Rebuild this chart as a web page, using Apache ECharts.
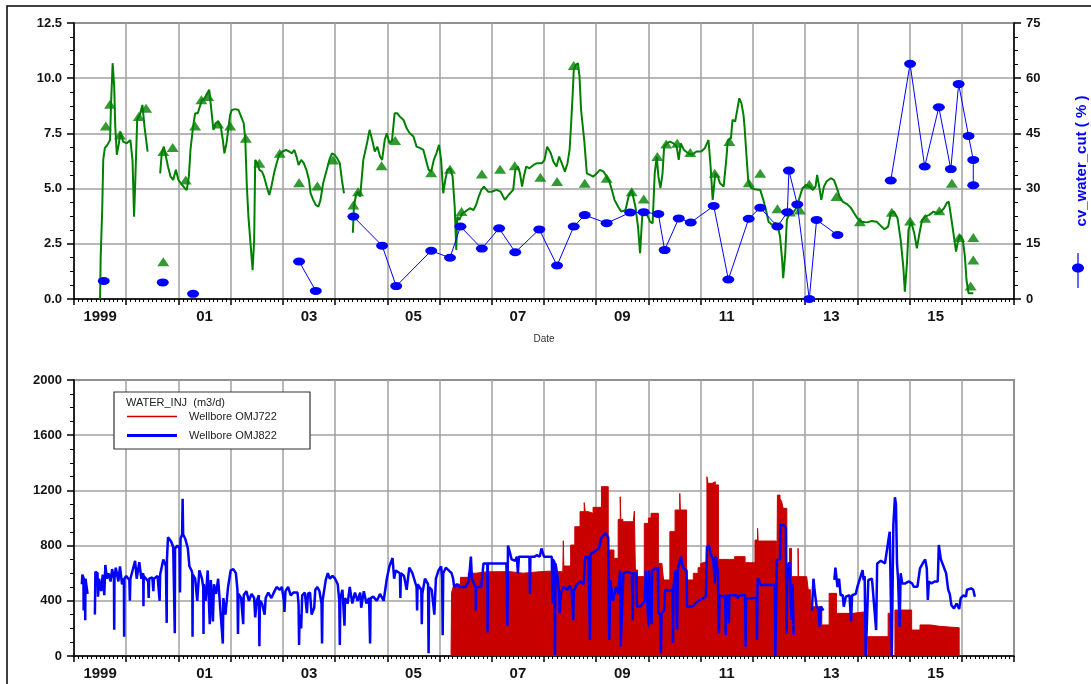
<!DOCTYPE html>
<html>
<head>
<meta charset="utf-8">
<script src="https://cdn.jsdelivr.net/npm/echarts@6/dist/echarts.min.js"></script>
<style>
html,body{margin:0;padding:0;background:#fff;}
#chart{width:1091px;height:684px;}
</style>
</head>
<body>
<div id="chart"></div>
<script>
// ---------- DATA (x = decimal year) ----------
const yearLabelValues = [1999.5,2001.5,2003.5,2005.5,2007.5,2009.5,2011.5,2013.5,2015.5];

// top panel, left axis: green rate line
const rateLine = [
[1999.50,0],[1999.51,1.84],[1999.54,4.03],[1999.56,6.3],[1999.59,6.83],[1999.64,6.98],[1999.69,7.2],[1999.71,8.87],[1999.74,10.68],[1999.77,9.62],[1999.79,7.81],[1999.82,6.53],[1999.86,7.05],[1999.89,7.58],[1999.94,7.13],[2000.01,7.05],[2000.08,7.2],[2000.12,6.3],[2000.15,3.73],[2000.17,5.09],[2000.21,8.11],[2000.26,8.34],[2000.31,8.79],[2000.35,7.81],[2000.41,6.68],[2000.5,null],
[2000.65,5.69],[2000.68,6.6],[2000.72,6.9],[2000.76,6.45],[2000.80,6.0],[2000.85,5.54],[2000.90,5.39],[2000.95,5.85],[2001.00,5.39],[2001.07,5.17],[2001.12,5.02],[2001.16,4.94],[2001.20,5.54],[2001.23,6.75],[2001.28,7.81],[2001.32,8.41],[2001.37,8.41],[2001.41,8.72],[2001.45,9.02],[2001.50,9.09],[2001.55,9.32],[2001.59,9.47],[2001.63,8.56],[2001.67,7.66],[2001.71,7.96],[2001.76,8.04],[2001.81,7.81],[2001.85,7.2],[2001.88,6.6],[2001.92,7.05],[2001.96,7.81],[2001.99,8.34],[2002.02,8.56],[2002.09,8.6],[2002.15,8.56],[2002.20,8.26],[2002.25,7.96],[2002.28,7.2],[2002.31,5.09],[2002.34,3.73],[2002.38,2.52],[2002.42,1.31],[2002.45,2.67],[2002.47,6.3],[2002.51,6.15],[2002.55,5.85],[2002.60,5.77],[2002.64,5.54],[2002.69,5.09],[2002.74,4.71],[2002.78,5.09],[2002.83,5.69],[2002.88,6.15],[2002.93,6.53],[2002.99,6.68],[2003.06,6.75],[2003.12,6.68],[2003.17,6.6],[2003.22,6.75],[2003.26,6.45],[2003.30,6.07],[2003.35,6.3],[2003.40,6.15],[2003.45,5.85],[2003.50,5.39],[2003.53,4.79],[2003.58,4.49],[2003.63,4.26],[2003.68,4.18],[2003.72,4.49],[2003.77,5.24],[2003.84,5.85],[2003.89,6.3],[2003.94,6.6],[2003.99,6.53],[2004.04,6.37],[2004.09,6.15],[2004.13,5.39],[2004.17,4.79],[2004.25,null],
[2004.34,3.0],[2004.36,4.18],[2004.40,4.71],[2004.44,4.86],[2004.48,4.64],[2004.54,6.3],[2004.61,7.05],[2004.66,7.66],[2004.71,7.2],[2004.76,6.68],[2004.81,6.9],[2004.86,6.45],[2004.90,6.3],[2004.95,7.2],[2004.99,7.51],[2005.04,7.05],[2005.09,7.2],[2005.14,8.41],[2005.19,8.41],[2005.24,8.26],[2005.31,8.11],[2005.37,7.73],[2005.43,7.51],[2005.50,7.36],[2005.56,6.9],[2005.63,6.83],[2005.69,6.75],[2005.74,6.3],[2005.79,5.85],[2005.84,5.77],[2005.89,6.3],[2005.94,6.6],[2005.99,6.98],[2006.03,6.3],[2006.07,4.79],[2006.11,5.39],[2006.15,5.85],[2006.20,5.92],[2006.25,5.54],[2006.29,4.18],[2006.32,2.22],[2006.34,3.73],[2006.38,3.58],[2006.43,3.88],[2006.49,3.96],[2006.58,4.11],[2006.65,4.03],[2006.70,4.26],[2006.75,4.64],[2006.80,4.94],[2006.85,5.09],[2006.93,4.86],[2007.00,4.86],[2007.09,4.94],[2007.17,4.86],[2007.25,4.49],[2007.32,4.71],[2007.41,4.94],[2007.45,5.85],[2007.50,6.0],[2007.54,5.69],[2007.58,5.09],[2007.62,5.62],[2007.66,6.0],[2007.72,5.92],[2007.80,6.07],[2007.87,6.15],[2007.96,6.15],[2008.01,6.3],[2008.06,6.9],[2008.13,6.6],[2008.18,6.22],[2008.24,6.0],[2008.29,6.45],[2008.34,6.15],[2008.40,5.77],[2008.45,6.15],[2008.49,6.75],[2008.52,7.96],[2008.55,9.32],[2008.57,10.38],[2008.61,10.6],[2008.65,10.68],[2008.68,10.08],[2008.71,8.56],[2008.77,7.2],[2008.82,5.69],[2008.88,5.62],[2008.94,5.54],[2009.01,5.69],[2009.07,5.85],[2009.14,5.77],[2009.20,5.54],[2009.25,5.32],[2009.30,4.94],[2009.35,4.49],[2009.42,4.18],[2009.48,3.96],[2009.56,4.03],[2009.62,4.64],[2009.68,4.94],[2009.75,4.18],[2009.80,3.28],[2009.84,2.07],[2009.88,3.73],[2009.91,4.03],[2009.95,3.88],[2009.99,3.73],[2010.03,3.5],[2010.08,3.43],[2010.12,5.69],[2010.16,6.45],[2010.19,5.54],[2010.23,5.02],[2010.27,5.69],[2010.30,6.9],[2010.35,7.05],[2010.41,7.13],[2010.48,7.05],[2010.54,6.9],[2010.58,6.3],[2010.62,7.05],[2010.68,6.75],[2010.76,6.6],[2010.83,6.53],[2010.92,6.68],[2011.01,6.68],[2011.08,6.83],[2011.15,7.2],[2011.19,6.0],[2011.23,4.49],[2011.28,5.69],[2011.33,5.54],[2011.37,5.24],[2011.44,5.09],[2011.49,6.3],[2011.52,7.2],[2011.58,7.28],[2011.61,8.11],[2011.66,8.04],[2011.70,8.56],[2011.74,9.09],[2011.78,8.87],[2011.82,8.34],[2011.84,7.81],[2011.87,6.75],[2011.91,5.39],[2011.96,5.05],[2012.03,4.97],[2012.14,4.94],[2012.20,4.49],[2012.25,4.03],[2012.30,3.5],[2012.37,3.35],[2012.43,3.46],[2012.48,3.28],[2012.52,2.82],[2012.56,1.77],[2012.58,0.94],[2012.62,2.07],[2012.65,3.58],[2012.70,3.88],[2012.76,3.88],[2012.83,4.11],[2012.89,4.56],[2012.95,5.02],[2013.02,5.17],[2013.08,5.09],[2013.15,4.94],[2013.20,5.09],[2013.23,5.62],[2013.27,5.09],[2013.31,4.49],[2013.36,5.09],[2013.41,5.32],[2013.49,5.47],[2013.55,5.39],[2013.60,5.09],[2013.66,4.64],[2013.72,4.41],[2013.80,4.3],[2013.87,4.15],[2013.94,3.88],[2014.00,3.66],[2014.08,3.5],[2014.18,3.47],[2014.28,3.53],[2014.37,3.5],[2014.45,3.31],[2014.52,3.16],[2014.59,3.28],[2014.64,3.88],[2014.70,3.96],[2014.77,3.66],[2014.83,2.67],[2014.88,1.47],[2014.91,0.33],[2014.95,1.62],[2014.98,3.13],[2015.03,3.5],[2015.09,2.98],[2015.14,2.3],[2015.19,2.98],[2015.24,3.58],[2015.30,3.73],[2015.38,3.81],[2015.46,3.96],[2015.53,3.88],[2015.60,3.96],[2015.66,4.11],[2015.71,4.34],[2015.75,4.41],[2015.79,3.81],[2015.84,2.98],[2015.89,2.15],[2015.93,2.67],[2015.97,2.9],[2016.02,2.67],[2016.06,1.92],[2016.09,0.86],[2016.13,0.26],[2016.22,0.26]
];

// top panel, left axis: green triangles
const ratePoints = [
[1999.61,7.84],[1999.69,8.82],[1999.88,7.43],[2000.24,8.26],[2000.38,8.64],[2000.71,1.69],[2000.71,6.68],[2000.89,6.86],[2001.14,5.39],[2001.32,7.84],[2001.44,9.02],[2001.57,9.17],[2001.76,7.93],[2001.99,7.84],[2002.29,7.28],[2002.55,6.15],[2002.94,6.6],[2003.31,5.27],[2003.66,5.12],[2003.96,6.3],[2004.35,4.26],[2004.44,4.86],
[2004.89,6.04],[2005.15,7.18],[2005.84,5.72],[2006.20,5.88],[2006.42,3.96],[2006.81,5.66],[2007.16,5.88],[2007.44,6.04],[2007.93,5.51],[2008.25,5.32],[2008.57,10.57],[2008.78,5.24],[2009.20,5.47],[2009.68,4.86],[2009.91,4.53],[2010.17,6.45],[2010.34,7.02],[2010.55,7.05],[2010.80,6.63],[2011.27,5.69],
[2011.55,7.13],[2011.92,5.27],[2012.14,5.69],[2012.47,4.09],[2012.71,3.94],[2012.90,4.03],[2013.08,5.2],[2013.60,4.64],[2014.05,3.5],[2014.66,3.93],[2015.01,3.53],[2015.30,3.66],[2015.57,4.0],[2015.81,5.24],[2015.95,2.78],[2016.22,2.79],[2016.22,1.77],[2016.17,0.59]
];

// top panel, right axis: cv_water_cut (%)
const waterCut = [
[1999.57,4.9],[1999.8,null],[2000.70,4.5],[2001.0,null],[2001.28,1.4],[2002.0,null],[2003.31,10.2],[2003.63,2.2],[2004.0,null],
[2004.35,22.4],[2004.90,14.5],[2005.17,3.5],[2005.84,13.1],[2006.20,11.2],[2006.40,19.7],[2006.81,13.7],[2007.14,19.2],[2007.45,12.7],[2007.91,18.9],[2008.25,9.1],[2008.57,19.7],[2008.78,22.8],[2009.20,20.6],[2009.65,23.5],[2009.91,23.6],[2010.19,23.1],[2010.31,13.3],[2010.58,21.9],[2010.81,20.8],[2011.25,25.3],[2011.53,5.3],[2011.92,21.8],[2012.14,24.8],[2012.47,19.7],[2012.66,23.6],[2012.69,34.9],[2012.85,25.7],[2013.08,0],[2013.22,21.5],[2013.62,17.4],[2014.0,null],
[2014.64,32.2],[2015.01,63.9],[2015.29,36.0],[2015.56,52.1],[2015.79,35.3],[2015.94,58.4],[2016.13,44.3],[2016.22,37.8],[2016.22,30.9]
];

// bottom panel: WATER_INJ (m3/d), Wellbore OMJ722
const injOMJ722 = [
[2006.22,0],[2006.23,460],[2006.26,500],[2006.30,520],[2006.40,570],[2006.55,600],[2006.70,610],[2006.90,611],[2007.35,600],[2007.60,610],[2007.90,615],[2008.10,611],[2008.20,611],[2008.21,0],[2008.215,611],[2008.36,611],[2008.37,835],[2008.38,652],[2008.51,804],[2008.59,937],[2008.69,1046],[2008.77,1111],[2008.79,1046],[2008.85,1034],[2008.94,1077],[2009.10,1227],[2009.23,768],[2009.34,708],[2009.42,990],[2009.46,1154],[2009.47,990],[2009.51,973],[2009.71,985],[2009.73,1050],[2009.75,623],[2009.79,575],[2009.92,961],[2010.00,1000],[2010.05,1034],[2010.19,671],[2010.245,0],[2010.255,671],[2010.29,551],[2010.41,901],[2010.51,1058],[2010.60,1178],[2010.61,1058],[2010.73,551],[2010.86,599],[2010.95,640],[2011.00,671],[2011.02,683],[2011.12,1299],[2011.14,1251],[2011.22,1263],[2011.28,1240],[2011.34,700],[2011.55,700],[2011.65,720],[2011.85,676],[2012.04,840],[2012.09,925],[2012.10,833],[2012.45,0],[2012.47,1166],[2012.52,1140],[2012.55,1120],[2012.58,1070],[2012.65,671],[2012.70,780],[2012.74,575],[2012.865,780],[2012.875,575],[2013.03,575],[2013.06,480],[2013.10,400],[2013.13,357],[2013.32,225],[2013.46,454],[2013.60,309],[2013.92,321],[2014.16,0],[2014.20,140],[2014.59,309],[2014.64,0],[2014.72,333],[2015.04,188],[2015.20,225],[2015.40,215],[2015.58,210],[2015.75,205],[2015.95,0]
];

// bottom panel: WATER_INJ (m3/d), Wellbore OMJ822
const injOMJ822 = [
[1999.15,520],[1999.16,590],[1999.18,570],[1999.185,330],[1999.19,560],[1999.21,540],[1999.215,260],[1999.22,560],[1999.26,450],[1999.33,null],
[1999.40,300],[1999.41,610],[1999.45,600],[1999.46,430],[1999.48,560],[1999.52,470],[1999.55,590],[1999.58,440],[1999.60,660],[1999.63,560],[1999.66,600],[1999.70,540],[1999.73,630],[1999.765,560],[1999.77,190],[1999.775,560],[1999.80,640],[1999.85,540],[1999.88,650],[1999.92,520],[1999.955,560],[1999.96,140],[1999.965,560],[2000.00,580],[2000.06,550],[2000.07,400],[2000.08,560],[2000.17,690],[2000.20,560],[2000.25,680],[2000.29,560],[2000.325,600],[2000.33,360],[2000.335,580],[2000.38,560],[2000.42,540],[2000.43,420],[2000.44,560],[2000.50,570],[2000.52,470],[2000.53,560],[2000.60,580],[2000.64,400],[2000.65,590],[2000.71,700],[2000.76,650],[2000.775,240],[2000.78,700],[2000.80,860],[2000.86,830],[2000.90,790],[2000.925,780],[2000.93,165],[2000.935,780],[2000.98,800],[2001.02,780],[2001.03,460],[2001.04,850],[2001.07,880],[2001.08,1140],[2001.09,880],[2001.13,850],[2001.18,780],[2001.21,650],[2001.25,620],[2001.265,600],[2001.27,140],[2001.275,590],[2001.32,560],[2001.36,400],[2001.40,620],[2001.45,560],[2001.475,500],[2001.48,160],[2001.485,520],[2001.52,400],[2001.56,620],[2001.60,230],[2001.62,550],[2001.66,250],[2001.68,520],[2001.72,450],[2001.76,560],[2001.80,350],[2001.85,90],[2001.86,420],[2001.90,300],[2001.95,500],[2002.00,620],[2002.05,630],[2002.10,600],[2002.13,480],[2002.14,160],[2002.15,450],[2002.20,420],[2002.24,230],[2002.25,440],[2002.30,470],[2002.35,400],[2002.40,450],[2002.45,420],[2002.47,280],[2002.50,400],[2002.54,440],[2002.55,70],[2002.56,400],[2002.60,380],[2002.65,300],[2002.67,420],[2002.72,460],[2002.78,420],[2002.84,470],[2002.88,500],[2002.94,480],[2002.98,500],[2003.02,400],[2003.03,320],[2003.05,470],[2003.10,500],[2003.15,440],[2003.20,460],[2003.28,460],[2003.30,380],[2003.31,80],[2003.32,300],[2003.35,200],[2003.37,440],[2003.42,460],[2003.46,310],[2003.48,450],[2003.52,460],[2003.55,300],[2003.60,350],[2003.62,480],[2003.66,500],[2003.70,470],[2003.74,380],[2003.75,90],[2003.76,400],[2003.82,550],[2003.86,600],[2003.90,560],[2003.95,580],[2004.00,560],[2004.05,520],[2004.08,400],[2004.09,80],[2004.10,420],[2004.14,480],[2004.18,220],[2004.19,420],[2004.24,380],[2004.28,500],[2004.33,380],[2004.38,460],[2004.43,400],[2004.48,460],
[2004.50,350],[2004.55,470],[2004.60,380],[2004.65,420],[2004.67,90],[2004.68,420],[2004.73,430],[2004.80,400],[2004.86,450],[2004.93,400],[2004.99,560],[2005.04,650],[2005.10,710],[2005.13,560],[2005.16,620],[2005.24,600],[2005.25,420],[2005.26,600],[2005.32,580],[2005.37,480],[2005.42,640],[2005.48,600],[2005.56,500],[2005.57,330],[2005.58,520],[2005.65,480],[2005.66,230],[2005.67,450],[2005.72,560],[2005.78,520],[2005.79,20],[2005.80,500],[2005.85,480],[2005.90,300],[2005.93,560],[2005.98,620],[2006.03,650],[2006.05,560],[2006.06,150],[2006.07,600],[2006.12,640],[2006.15,640],[2006.23,600],[2006.26,560],[2006.28,500],[2006.34,520],[2006.38,500],[2006.44,500],[2006.50,500],[2006.56,540],[2006.60,720],[2006.62,560],[2006.69,500],[2006.695,330],[2006.70,500],[2006.80,500],[2006.84,670],[2006.915,670],[2006.92,170],[2006.925,670],[2007.05,670],[2007.20,670],[2007.28,670],[2007.30,220],[2007.31,800],[2007.34,760],[2007.38,700],[2007.45,690],[2007.48,720],[2007.50,600],[2007.52,720],[2007.60,720],[2007.72,720],[2007.73,450],[2007.74,720],[2007.82,720],[2007.86,730],[2007.92,720],[2007.95,780],
[2008.00,720],[2008.08,720],[2008.15,720],[2008.16,380],[2008.17,700],[2008.20,680],[2008.21,7],[2008.22,670],[2008.25,600],[2008.29,450],[2008.30,310],[2008.32,450],[2008.37,500],[2008.45,480],[2008.50,510],[2008.53,470],[2008.56,260],[2008.57,470],[2008.63,520],[2008.70,540],[2008.76,520],[2008.79,720],[2008.85,720],[2008.88,116],[2008.89,740],[2008.95,750],[2009.05,780],[2009.10,860],[2009.18,890],[2009.23,860],[2009.25,116],[2009.27,550],[2009.32,400],[2009.38,500],[2009.42,450],[2009.46,620],[2009.47,68],[2009.50,400],[2009.52,600],[2009.60,610],[2009.68,600],[2009.70,260],[2009.71,600],[2009.77,600],[2009.78,357],[2009.85,360],[2009.93,400],[2009.95,620],[2010.00,213],[2010.01,620],[2010.06,230],[2010.07,620],[2010.12,630],[2010.18,640],[2010.19,310],[2010.23,300],[2010.24,19],[2010.25,310],[2010.30,330],[2010.32,480],[2010.40,470],[2010.46,480],[2010.47,92],[2010.48,500],[2010.52,620],[2010.55,190],[2010.56,620],[2010.62,720],[2010.66,640],[2010.73,620],[2010.74,357],[2010.85,360],[2010.95,400],[2011.05,420],[2011.10,430],[2011.12,790],[2011.16,800],[2011.19,740],[2011.24,700],[2011.27,526],[2011.29,720],[2011.33,600],[2011.35,164],[2011.36,440],[2011.42,430],[2011.47,440],[2011.48,152],[2011.49,430],[2011.53,440],[2011.54,237],[2011.55,440],[2011.62,440],[2011.68,440],[2011.70,420],[2011.75,440],[2011.85,442],[2011.86,68],[2011.87,420],[2011.95,418],[2012.02,420],[2012.07,420],[2012.08,116],[2012.09,540],[2012.10,563],[2012.15,514],[2012.25,514],[2012.35,514],[2012.42,514],[2012.43,0],[2012.45,0],[2012.46,695],[2012.52,700],[2012.53,949],[2012.58,950],[2012.63,930],[2012.645,164],[2012.66,600],[2012.70,680],[2012.73,671],[2012.74,261],[2012.76,520],[2012.78,150],[2012.95,null],
[2013.13,330],[2013.16,560],[2013.18,480],[2013.22,360],[2013.26,333],[2013.28,213],[2013.30,360],[2013.35,330],[2013.45,null],
[2013.56,551],[2013.58,640],[2013.62,500],[2013.65,560],[2013.68,440],[2013.72,442],[2013.74,357],[2013.78,430],[2013.85,440],[2013.88,250],[2013.90,440],[2013.97,450],[2014.00,500],[2014.05,560],[2014.10,623],[2014.12,550],[2014.14,580],[2014.16,0],[2014.18,200],[2014.21,551],[2014.28,560],[2014.31,551],[2014.36,188],[2014.38,671],[2014.45,690],[2014.53,671],[2014.56,750],[2014.60,852],[2014.62,900],[2014.66,0],[2014.69,950],[2014.72,1150],[2014.74,1100],[2014.76,671],[2014.78,560],[2014.81,213],[2014.83,600],[2014.86,526],[2014.92,526],[2014.98,540],[2015.05,526],[2015.08,502],[2015.15,502],[2015.20,635],[2015.25,670],[2015.30,700],[2015.33,635],[2015.35,406],[2015.37,540],[2015.42,526],[2015.48,540],[2015.54,540],[2015.56,804],[2015.60,700],[2015.65,650],[2015.70,600],[2015.74,480],[2015.77,450],[2015.80,370],[2015.85,345],[2015.90,380],[2015.95,340],[2015.98,420],[2016.03,440],[2016.08,430],[2016.10,480],[2016.18,490],[2016.22,480],[2016.25,430]
];

// ---------- CHART ----------
const GRID_COLOR = '#a0a0a0';
const AX_COLOR = '#000';
const LABEL_COLOR = '#141414';
const FONT = 'Liberation Sans, Arial, sans-serif';

function xAxisCfg(gridIndex, withName) {
  return {
    type: 'value', gridIndex: gridIndex, min: 1999, max: 2017, interval: 1,
    axisLine: {show: true, onZero: false, lineStyle: {color: AX_COLOR, width: 1.5}},
    axisTick: {show: true, length: 6, lineStyle: {color: AX_COLOR, width: 1.5}},
    minorTick: {show: true, splitNumber: 12, length: 3, lineStyle: {color: AX_COLOR, width: 1}},
    splitLine: {show: true, lineStyle: {color: GRID_COLOR, width: 1.5}},
    axisLabel: {
      customValues: yearLabelValues, margin: 10,
      color: LABEL_COLOR, fontFamily: FONT, fontWeight: 'bold', fontSize: 15,
      formatter: function (v) {
        const y = Math.floor(v);
        return y === 1999 ? '1999' : String(y % 100).padStart(2, '0');
      }
    },
    name: withName ? 'Date' : '', nameLocation: 'middle', nameGap: 35,
    nameTextStyle: {color: '#333', fontFamily: FONT, fontSize: 10}
  };
}

function yAxisCfg(gridIndex, min, max, interval, pos, fmt, split) {
  return {
    type: 'value', gridIndex: gridIndex, position: pos, min: min, max: max, interval: interval,
    axisLine: {show: true, lineStyle: {color: AX_COLOR, width: 1.5}},
    axisTick: {show: true, length: 7, lineStyle: {color: AX_COLOR, width: 1.5}},
    minorTick: {show: true, splitNumber: 4, length: 4, lineStyle: {color: AX_COLOR, width: 1}},
    splitLine: {show: split, lineStyle: {color: GRID_COLOR, width: 1.5}},
    axisLabel: {margin: 12, color: LABEL_COLOR, fontFamily: FONT, fontWeight: 'bold', fontSize: 13, formatter: fmt}
  };
}

const chart = echarts.init(document.getElementById('chart'), null, {renderer: 'canvas'});
const yRight = yAxisCfg(0, 0, 75, 15, 'right', v => String(v), false);
yRight.name = 'cv_water_cut ( % )';
yRight.nameLocation = 'middle';
yRight.nameRotate = 90;
yRight.nameGap = 60;
yRight.nameTextStyle = {color: '#0000ff', fontFamily: FONT, fontWeight: 'bold', fontSize: 15};

const legendText = {color: '#222', fontFamily: FONT, fontSize: 11, padding: [0, 0, 0, 7]};

chart.setOption({
  animation: false,
  backgroundColor: '#fff',
  grid: [
    {left: 74, top: 23, width: 940, height: 276, show: true, borderColor: '#333', borderWidth: 1.5, backgroundColor: 'transparent', containLabel: false, outerBoundsMode: 'none'},
    {left: 74, top: 380, width: 940, height: 276, show: true, borderColor: '#333', borderWidth: 1.5, backgroundColor: 'transparent', containLabel: false, outerBoundsMode: 'none'}
  ],
  xAxis: [xAxisCfg(0, true), xAxisCfg(1, false)],
  yAxis: [
    yAxisCfg(0, 0, 12.5, 2.5, 'left', v => v.toFixed(1), true),
    yRight,
    yAxisCfg(1, 0, 2000, 400, 'left', v => String(v), true)
  ],
  legend: [
    {
      z: 20, left: 127, top: 411, orient: 'vertical', itemWidth: 50, itemHeight: 1.5, itemGap: 12, padding: 0,
      data: [{name: 'Wellbore OMJ722', icon: 'rect'}], textStyle: legendText, selectedMode: false
    },
    {
      z: 20, left: 127, top: 430, orient: 'vertical', itemWidth: 50, itemHeight: 3, itemGap: 12, padding: 0,
      data: [{name: 'Wellbore OMJ822', icon: 'rect'}], textStyle: legendText, selectedMode: false
    }
  ],
  graphic: [
    {type: 'rect', shape: {x: 7, y: 6, width: 1200, height: 800}, style: {fill: 'none', stroke: '#000', lineWidth: 1.5}, z: 100, silent: true},
    {type: 'rect', shape: {x: 114, y: 392, width: 196, height: 57}, style: {fill: '#fff', stroke: '#333', lineWidth: 1.2}, z: 1, silent: true},
    {type: 'text', x: 126, y: 397, style: {text: 'WATER_INJ  (m3/d)', fill: '#222', font: '11px Liberation Sans, Arial, sans-serif'}, z: 21, silent: true},
    {type: 'line', shape: {x1: 1078, y1: 253, x2: 1078, y2: 288}, style: {stroke: '#0000ff', lineWidth: 1.2}, z: 51, silent: true},
    {type: 'ellipse', shape: {cx: 1078, cy: 268, rx: 6, ry: 4.5}, style: {fill: '#0000ff'}, z: 52, silent: true}
  ],
  series: [
    {
      name: 'rate', type: 'line', xAxisIndex: 0, yAxisIndex: 0, data: rateLine,
      showSymbol: false, symbol: 'none', connectNulls: false,
      lineStyle: {color: '#008000', width: 2}, z: 2
    },
    {
      name: 'rate tests', type: 'scatter', xAxisIndex: 0, yAxisIndex: 0, data: ratePoints,
      symbol: 'triangle', symbolSize: [12, 9], itemStyle: {color: '#008000'}, z: 3
    },
    {
      name: 'cv_water_cut', type: 'line', xAxisIndex: 0, yAxisIndex: 1, data: waterCut,
      symbol: 'circle', symbolSize: [12, 8], showSymbol: true, connectNulls: false,
      lineStyle: {color: '#0000ff', width: 1}, itemStyle: {color: '#0000ff'}, z: 4
    },
    {
      name: 'Wellbore OMJ722', type: 'line', xAxisIndex: 1, yAxisIndex: 2, data: injOMJ722,
      step: 'end', showSymbol: false, symbol: 'none',
      lineStyle: {color: '#c80000', width: 1}, itemStyle: {color: '#c80000'},
      areaStyle: {color: '#c80000', opacity: 1, origin: 'start'}, z: 2
    },
    {
      name: 'Wellbore OMJ822', type: 'line', xAxisIndex: 1, yAxisIndex: 2, data: injOMJ822,
      showSymbol: false, symbol: 'none', connectNulls: false,
      lineStyle: {color: '#0000ff', width: 2.5}, itemStyle: {color: '#0000ff'}, z: 3
    }
  ]
});
</script>
</body>
</html>
